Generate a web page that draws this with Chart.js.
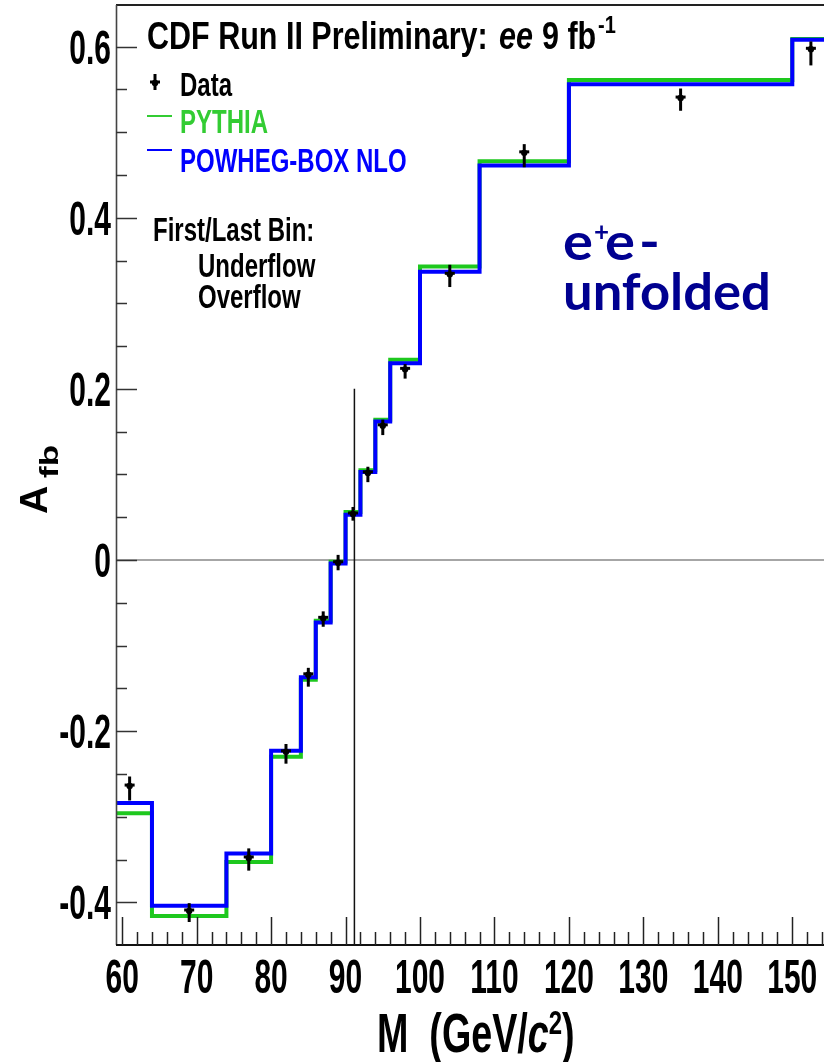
<!DOCTYPE html>
<html><head><meta charset="utf-8">
<script src="https://cdn.jsdelivr.net/npm/chart.js@4.4.0/dist/chart.umd.min.js"></script>
<style>html,body{margin:0;padding:0;background:#fff;}canvas{display:block;}</style>
</head><body>
<canvas id="c" width="824" height="1062"></canvas>
<script>
// ---- data ----
const binEdges = [58, 64, 74, 80, 84, 86, 88, 90, 92, 94, 96, 100, 108, 120, 150, 160];
const pythia   = [-0.296, -0.416, -0.353, -0.230, -0.140, -0.071, -0.002, 0.056, 0.105, 0.164, 0.234, 0.343, 0.466, 0.561, 0.609];
const powheg   = [-0.284, -0.404, -0.343, -0.223, -0.137, -0.073, -0.004, 0.053, 0.103, 0.162, 0.230, 0.337, 0.461, 0.556, 0.608];
const dataX    = [61, 69, 77, 82, 85, 87, 89, 91, 93, 95, 98, 104, 114, 135, 152.5];
const dataY    = [-0.263, -0.409, -0.347, -0.223, -0.133, -0.067, -0.002, 0.055, 0.103, 0.158, 0.224, 0.335, 0.477, 0.541, 0.598];
const errUp    = [0.010, 0.008, 0.010, 0.008, 0.007, 0.007, 0.008, 0.007, 0.006, 0.006, 0.005, 0.010, 0.009, 0.010, 0.008];
const errDown  = [0.018, 0.014, 0.016, 0.015, 0.015, 0.011, 0.010, 0.009, 0.012, 0.012, 0.012, 0.016, 0.018, 0.016, 0.020];
const zMass    = 91.19;
const zLineTop = 0.2;
const xTicks   = [60, 70, 80, 90, 100, 110, 120, 130, 140, 150];
const xTickLabels = ['60','70','80','90','100','110','120','130','140','150'];
const yTicks   = [-0.4, -0.2, 0, 0.2, 0.4, 0.6];
const yTickLabels = ['-0.4','-0.2','0','0.2','0.4','0.6'];
const xMinorStep = 2;
const yMinorStep = 0.05;
const xRange = [59.17, 154.26];
const yRange = [-0.4499, 0.6486];

function histPoints(edges, vals) {
  const pts = vals.map((v, i) => ({x: edges[i], y: v}));
  pts.push({x: edges[edges.length - 1], y: vals[vals.length - 1]});
  return pts;
}

const FONT = '"Liberation Sans", Arial, Helvetica, sans-serif';
function drawText(ctx, s, x, y, o) {
  ctx.save();
  ctx.font = `${o.style || 'normal'} ${o.weight || 'bold'} ${o.size}px ${o.family || FONT}`;
  ctx.fillStyle = o.color || '#000';
  ctx.textAlign = o.align || 'left';
  ctx.textBaseline = 'alphabetic';
  ctx.translate(x, y);
  if (o.rot) ctx.rotate(o.rot);
  ctx.scale(o.sx || 1, o.sy || 1);
  ctx.fillText(s, 0, 0);
  ctx.restore();
}
function drawRuns(ctx, runs, x, y) {
  let cx = x;
  runs.forEach(r => {
    ctx.save();
    ctx.font = `${r.style || 'normal'} bold ${r.size}px ${FONT}`;
    const w = ctx.measureText(r.t).width;
    ctx.restore();
    drawText(ctx, r.t, cx, y + (r.dy || 0), r);
    cx += w + (r.gap || 0);
  });
}
function drawMarker(ctx, px, py, pTop, pBot) {
  ctx.save();
  ctx.strokeStyle = '#000'; ctx.fillStyle = '#000';
  ctx.lineWidth = 3;
  ctx.beginPath(); ctx.moveTo(px, pTop); ctx.lineTo(px, pBot); ctx.stroke();
  ctx.beginPath(); ctx.moveTo(px - 5, py); ctx.lineTo(px + 5, py); ctx.stroke();
  ctx.beginPath(); ctx.arc(px, py + 1, 3.2, 0, Math.PI * 2); ctx.fill();
  ctx.restore();
}

const rootStyle = {
  id: 'rootStyle',
  afterDatasetsDraw(chart) {
    const {ctx, scales: {x, y}} = chart;
    dataX.forEach((xv, i) => {
      drawMarker(ctx, x.getPixelForValue(xv), y.getPixelForValue(dataY[i]),
        y.getPixelForValue(dataY[i] + errUp[i]), y.getPixelForValue(dataY[i] - errDown[i]));
    });
  },
  afterDraw(chart) {
    const {ctx, chartArea: ca, scales: {x, y}} = chart;
    ctx.save();
    // frame
    ctx.strokeStyle = '#222'; ctx.lineWidth = 2;
    ctx.beginPath(); ctx.moveTo(ca.left, ca.top); ctx.lineTo(ca.right, ca.top); ctx.stroke();
    ctx.strokeStyle = '#444'; ctx.lineWidth = 1.6;
    ctx.beginPath(); ctx.moveTo(ca.left + 0.5, ca.top); ctx.lineTo(ca.left + 0.5, ca.bottom); ctx.stroke();
    ctx.strokeStyle = '#111'; ctx.lineWidth = 2.2;
    ctx.beginPath(); ctx.moveTo(ca.left, ca.bottom); ctx.lineTo(ca.right, ca.bottom); ctx.stroke();
    // x ticks
    ctx.strokeStyle = '#222'; ctx.lineWidth = 1.5;
    for (let v = Math.ceil(x.min / xMinorStep) * xMinorStep; v <= x.max; v += xMinorStep) {
      const major = xTicks.some(t => Math.abs(t - v) < 1e-6);
      const px = Math.round(x.getPixelForValue(v)) + 0.5;
      ctx.beginPath(); ctx.moveTo(px, ca.bottom); ctx.lineTo(px, ca.bottom - (major ? 28 : 13)); ctx.stroke();
    }
    // y ticks
    ctx.strokeStyle = '#333';
    for (let k = Math.ceil(y.min / yMinorStep); k * yMinorStep <= y.max; k++) {
      const v = k * yMinorStep;
      const major = yTicks.some(t => Math.abs(t - v) < 1e-6);
      const py = Math.round(y.getPixelForValue(v)) + 0.5;
      ctx.beginPath(); ctx.moveTo(ca.left, py); ctx.lineTo(ca.left + (major ? 21 : 11), py); ctx.stroke();
    }
    ctx.restore();

    // tick labels
    xTicks.forEach((v, i) => drawText(ctx, xTickLabels[i], x.getPixelForValue(v), 993, {size: 30, sy: 1.6, align: 'center'}));
    yTicks.forEach((v, i) => drawText(ctx, yTickLabels[i], 111, y.getPixelForValue(v) + 17, {size: 30, sy: 1.6, align: 'right'}));

    // axis titles
    drawRuns(ctx, [
      {t: 'M  (GeV/', size: 37.7, sy: 1.48},
      {t: 'c', size: 37.7, sy: 1.48, style: 'italic'},
      {t: '2', size: 24, sy: 1.4, dy: -18},
      {t: ')', size: 37.7, sy: 1.48}
    ], 377, 1052);
    drawText(ctx, 'A', 47, 514, {size: 39, rot: -Math.PI / 2, sx: 1.0});
    drawText(ctx, 'fb', 58, 478, {size: 25, rot: -Math.PI / 2, sx: 1.4});

    // title
    drawText(ctx, 'CDF Run II Preliminary:', 147, 49, {size: 30.5, sy: 1.25});
    drawText(ctx, 'ee', 499, 49, {size: 30.5, sy: 1.25, style: 'italic'});
    drawText(ctx, '9 fb', 542, 49, {size: 30.5, sy: 1.25});
    drawText(ctx, '-1', 598, 33, {size: 20, sy: 1.15});

    // legend
    drawMarker(ctx, 155, 82, 74, 90);
    drawText(ctx, 'Data', 180, 96, {size: 24, sy: 1.38});
    ctx.save();
    ctx.lineWidth = 2;
    ctx.strokeStyle = '#33cc33';
    ctx.beginPath(); ctx.moveTo(147, 116); ctx.lineTo(172, 116); ctx.stroke();
    ctx.strokeStyle = '#0000ff';
    ctx.beginPath(); ctx.moveTo(147, 150); ctx.lineTo(172, 150); ctx.stroke();
    ctx.restore();
    drawText(ctx, 'PYTHIA', 180, 133, {size: 24, sy: 1.38, color: '#33cc33'});
    drawText(ctx, 'POWHEG-BOX NLO', 180, 172, {size: 24, sy: 1.38, color: '#0000ff'});
    drawText(ctx, 'First/Last Bin:', 153, 241, {size: 24, sy: 1.38});
    drawText(ctx, 'Underflow', 198, 277, {size: 24, sy: 1.38});
    drawText(ctx, 'Overflow', 198, 308, {size: 24, sy: 1.38});

    // annotation
    const LATO = 'Lato, "Open Sans", sans-serif';
    drawText(ctx, 'e', 563, 260, {size: 51, family: LATO, color: '#000090', sx: 1.1});
    drawText(ctx, '+', 594, 241, {size: 26, family: LATO, color: '#000090'});
    drawText(ctx, 'e', 605, 260, {size: 51, family: LATO, color: '#000090', sx: 1.1});
    drawText(ctx, '-', 639, 260, {size: 51, family: LATO, color: '#000090', sx: 1.1});
    drawText(ctx, 'unfolded', 563, 310, {size: 51, family: LATO, color: '#000090', sx: 1.03});
  }
};

new Chart(document.getElementById('c'), {
  type: 'line',
  data: {
    datasets: [
      {type: 'scatter', label: 'Data', data: dataX.map((xv, i) => ({x: xv, y: dataY[i]})),
       pointRadius: 0, showLine: false, order: 0},
      {label: 'POWHEG-BOX NLO', data: histPoints(binEdges, powheg), stepped: 'before',
       borderColor: '#0000ff', borderWidth: 4, pointRadius: 0, fill: false, order: 1,
       borderJoinStyle: 'miter', borderCapStyle: 'butt'},
      {label: 'PYTHIA', data: histPoints(binEdges, pythia), stepped: 'before',
       borderColor: '#1ec81e', borderWidth: 4, pointRadius: 0, fill: false, order: 2,
       borderJoinStyle: 'miter', borderCapStyle: 'butt'},
      {label: 'Z', data: [{x: zMass, y: zLineTop}, {x: zMass, y: yRange[0]}],
       borderColor: '#111', borderWidth: 1.5, pointRadius: 0, order: 3},
      {label: 'zero', data: [{x: xRange[0], y: 0}, {x: xRange[1], y: 0}],
       borderColor: '#888', borderWidth: 1.5, pointRadius: 0, order: 4}
    ]
  },
  options: {
    responsive: false, animation: false, devicePixelRatio: 1,
    layout: {padding: {left: 116, top: 5, right: 0, bottom: 117}},
    plugins: {legend: {display: false}, tooltip: {enabled: false}},
    scales: {
      x: {type: 'linear', min: xRange[0], max: xRange[1], display: false},
      y: {type: 'linear', min: yRange[0], max: yRange[1], display: false}
    }
  },
  plugins: [rootStyle]
});
</script>
</body></html>
